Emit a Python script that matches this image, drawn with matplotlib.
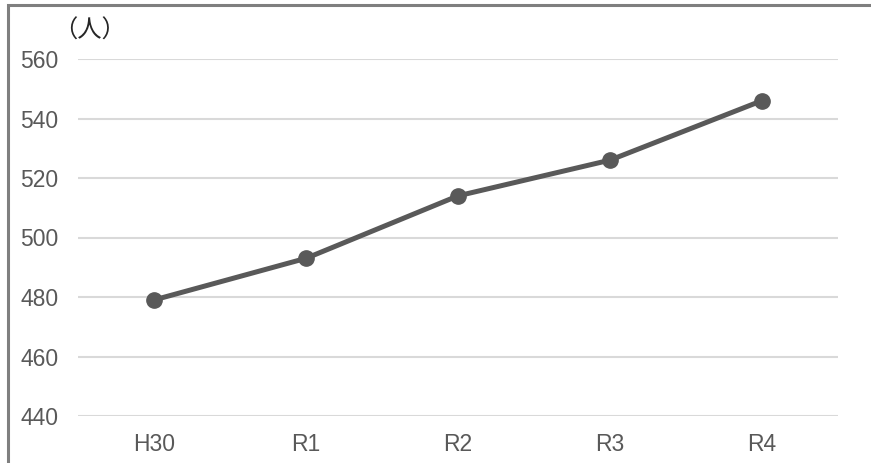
import matplotlib.pyplot as plt
from matplotlib.patches import Rectangle

years = ["H30", "R1", "R2", "R3", "R4"]
people = [479, 493, 514, 526, 546]
y_ticks = [440, 460, 480, 500, 520, 540, 560]

TEXT = "#595959"

plt.rcParams['font.family'] = ['Liberation Sans', 'DejaVu Sans']

fig = plt.figure(figsize=(8.71, 4.63), dpi=100)
ax = fig.add_axes([78 / 871, 1 - 416 / 463, 760 / 871, 357 / 463])

x = range(len(years))
ax.plot(x, people, color="#595959", lw=3.6, marker="o", ms=11, zorder=3)

ax.set_xlim(-0.5, len(years) - 0.5)
ax.set_ylim(440, 560)
ax.set_xticks(list(x))
ax.set_xticklabels(years)
ax.set_yticks(y_ticks)
ax.tick_params(length=0, labelsize=16.5, colors=TEXT)
ax.tick_params(axis="y", pad=14)
ax.tick_params(axis="x", pad=12)
ax.grid(axis="y", color="#d9d9d9", lw=1.5)
ax.set_axisbelow(True)
for s in ax.spines.values():
    s.set_visible(False)

fig.text(53 / 871, 1 - 31 / 463, "（人）", fontsize=17.5, color="#262626",
         family=['Noto Sans CJK JP', 'DejaVu Sans'], va="center")

# outer chart frame (right and bottom edges are cut off in the original)
fig.patches.append(Rectangle((8 / 871, -0.1), 1.1, 1 - 5 / 463 + 0.1,
                             transform=fig.transFigure, fill=False,
                             ec="#7f7f7f", lw=2.2))

fig.savefig("out.png", dpi=100)
